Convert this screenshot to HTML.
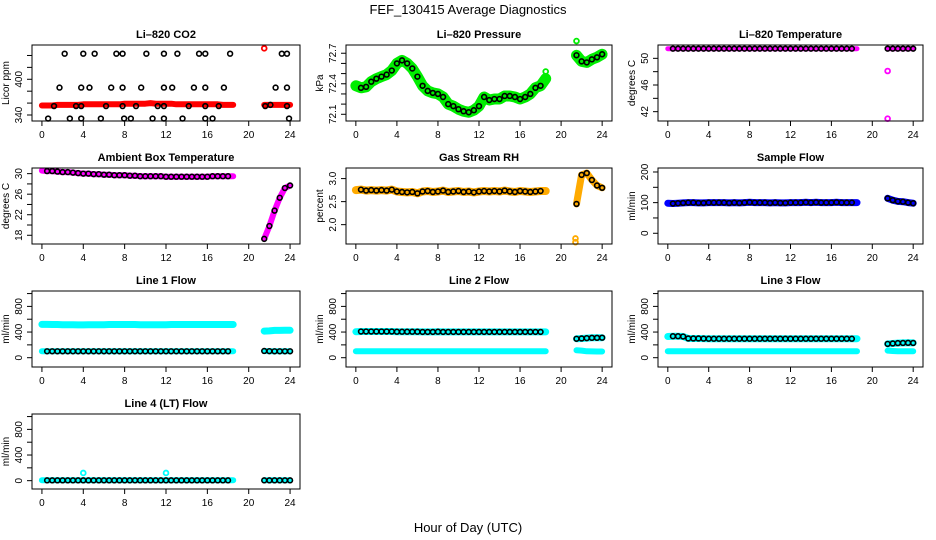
<!DOCTYPE html>
<html><head><meta charset="utf-8"><style>
html,body{margin:0;padding:0;background:#fff;}
svg{display:block;font-family:"Liberation Sans",Arial,sans-serif;}
</style></head><body>
<svg id="chart" width="936" height="540" viewBox="0 0 936 540" xmlns="http://www.w3.org/2000/svg">
<rect width="936" height="540" fill="#fff"/>
<text x="468" y="14" font-size="13" text-anchor="middle">FEF_130415  Average Diagnostics</text>
<text x="468" y="532" font-size="13" text-anchor="middle">Hour of Day (UTC)</text>
</svg>
<script>
// ---- shared hours ----
const H1 = [0,0.5,1,1.5,2,2.5,3,3.5,4,4.5,5,5.5,6,6.5,7,7.5,8,8.5,9,9.5,10,10.5,11,11.5,12,12.5,13,13.5,14,14.5,15,15.5,16,16.5,17,17.5,18,18.5];
const H2 = [21.5,22,22.5,23,23.5,24];
const xTicks = [0,4,8,12,16,20,24];

// ---- CO2 ----
const co2Red1 = [356,356,356,357,357,357,357,357,358,358,358,358,358,358,358,358,359,359,359,359,359,360,359,359,359,359,358,358,358,358,358,358,358,358,358,357,357,357];
const co2Red2 = [357,357,357,357,357,357];
const co2RedOutHours = [21.5];
const co2RedOutVals = [452];
const co2BlackHours = [0.6,1.17,1.7,2.2,2.7,3.3,3.8,3.8,3.8,4.0,4.6,5.1,5.7,6.2,6.7,7.2,7.8,7.8,7.8,7.95,8.6,9.1,9.6,10.1,10.7,11.2,11.8,11.8,11.8,11.8,12.6,13.1,13.6,14.2,14.7,15.2,15.8,15.8,15.8,15.8,16.5,17.1,17.6,18.2,21.6,22.1,22.6,23.2,23.7,23.7,23.7,23.9];
const co2BlackVals = [334,355,386,443,334,355,334,386,355,443,386,443,334,355,386,443,443,386,355,334,334,355,386,443,334,355,355,334,386,443,386,443,334,355,386,443,443,386,355,334,334,355,386,443,355,357,386,443,443,386,355,334];
// ---- Pressure ----
const pres1 = [72.38,72.36,72.37,72.42,72.45,72.47,72.49,72.53,72.6,72.63,72.6,72.55,72.47,72.38,72.33,72.31,72.3,72.27,72.2,72.18,72.15,72.13,72.12,72.14,72.18,72.27,72.24,72.25,72.25,72.28,72.28,72.27,72.25,72.27,72.3,72.36,72.38,72.45];
const pres2 = [72.68,72.62,72.61,72.64,72.66,72.69];
const presOutHours = [18.5,21.5];
const presOutVals = [72.52,72.82];
// ---- Li-820 temperature ----
const ltemp1 = [51.45,51.45,51.45,51.45,51.45,51.45,51.45,51.45,51.45,51.45,51.45,51.45,51.45,51.45,51.45,51.45,51.45,51.45,51.45,51.45,51.45,51.45,51.45,51.45,51.45,51.45,51.45,51.45,51.45,51.45,51.45,51.45,51.45,51.45,51.45,51.45,51.45,51.45];
const ltemp2 = [51.45,51.45,51.45,51.45,51.45,51.45];
const ltempOutHours = [21.5,21.5];
const ltempOutVals = [48.1,40.95];
// ---- Ambient box ----
const amb1 = [30.6,30.5,30.5,30.4,30.3,30.3,30.2,30.1,30.0,30.0,29.9,29.9,29.8,29.8,29.7,29.7,29.7,29.6,29.6,29.5,29.5,29.5,29.5,29.5,29.4,29.4,29.4,29.4,29.4,29.4,29.4,29.4,29.4,29.5,29.5,29.5,29.5,29.5];
const amb2 = [17.3,19.8,22.8,25.3,27.2,27.7];
// ---- RH ----
const rh1 = [2.75,2.76,2.74,2.75,2.74,2.75,2.74,2.76,2.72,2.71,2.70,2.71,2.68,2.72,2.73,2.71,2.72,2.74,2.71,2.72,2.73,2.71,2.72,2.70,2.72,2.73,2.72,2.73,2.72,2.74,2.72,2.71,2.73,2.72,2.71,2.72,2.73,2.73];
const rh2 = [2.45,3.08,3.12,2.97,2.85,2.80];
const rhOutHours = [21.4,21.4];
const rhOutVals = [1.62,1.70];
// ---- Sample flow ----
const sf1 = [98,97,98,99,100,100,99,99,100,100,100,100,99,100,99,100,101,100,100,100,99,100,99,99,100,100,100,101,100,101,100,100,100,101,100,100,100,100];
const sf2 = [114,108,104,103,100,98];
// ---- Line flows ----
const l1Hi1 = [520,520,518,518,515,515,515,512,512,515,515,515,515,518,518,518,518,518,518,515,515,515,515,515,515,518,518,518,518,518,518,518,518,518,518,518,518,518];
const l1Hi2 = [415,418,425,425,428,428];
const l1Lo1 = [100,100,100,100,100,100,100,100,100,100,100,100,100,100,100,100,100,100,100,100,100,100,100,100,100,100,100,100,100,100,100,100,100,100,100,100,100,100];
const l1Lo2 = [105,102,100,100,100,100];
const l2Hi1 = [405,408,408,408,408,408,408,408,405,405,405,405,405,402,402,402,405,402,402,402,402,402,402,402,402,402,402,402,402,402,402,402,402,402,402,402,402,402];
const l2Hi2 = [295,300,305,310,310,312];
const l2Lo1 = [100,100,100,100,100,100,100,100,100,100,100,100,100,100,100,100,100,100,100,100,100,100,100,100,100,100,100,100,100,100,100,100,100,100,100,100,100,100];
const l2Lo2 = [115,110,100,98,97,96];
const l3Hi1 = [330,335,335,330,300,300,300,298,296,296,296,296,296,296,296,296,296,296,296,296,296,296,296,296,296,296,296,296,296,296,296,296,296,296,296,296,296,296];
const l3Hi2 = [215,222,228,230,232,230];
const l3Lo1 = [100,100,100,100,100,100,100,100,100,100,100,100,100,100,100,100,100,100,100,100,100,100,100,100,100,100,100,100,100,100,100,100,100,100,100,100,100,100];
const l3Lo2 = [110,105,100,100,100,100];
const l4v1 = [5,5,5,5,5,5,5,5,5,5,5,5,5,5,5,5,5,5,5,5,5,5,5,5,5,5,5,5,5,5,5,5,5,5,5,5,5,5];
const l4v2 = [5,5,5,5,5,5];
const l4OutHours = [4,12];
const l4OutVals = [120,120];

// ---- layout (not data) ----
const colX = [[32,300],[346,612],[658,923]];
const rowY = [[45,121],[168,244],[291,367],[414,489]];
const NS = "http://www.w3.org/2000/svg";
const svg = document.getElementById('chart');
function mk(tag, attrs, parent){const e=document.createElementNS(NS,tag);for(const k in attrs)e.setAttribute(k,attrs[k]);(parent||svg).appendChild(e);return e;}

const panels = [
 {name:'co2', title:'Li\u2013820 CO2', ylab:'Licor ppm', col:0,row:0, ylim:[329.9,457.6], yt:[340,360,380,400,420,440], yl:['340','400'], ylv:[340,400]},
 {name:'pressure', title:'Li\u2013820 Pressure', ylab:'kPa', col:1,row:0, ylim:[72.034,72.781], yt:[72.1,72.2,72.3,72.4,72.5,72.6,72.7], yl:['72.1','72.4','72.7'], ylv:[72.1,72.4,72.7]},
 {name:'li820-temp', title:'Li\u2013820 Temperature', ylab:'degrees C', col:2,row:0, ylim:[40.6,52.0], yt:[42,44,46,48,50], yl:['42','46','50'], ylv:[42,46,50]},
 {name:'ambient-temp', title:'Ambient Box Temperature', ylab:'degrees C', col:0,row:1, ylim:[16.3,31.1], yt:[18,20,22,24,26,28,30], yl:['18','22','26','30'], ylv:[18,22,26,30]},
 {name:'rh', title:'Gas Stream RH', ylab:'percent', col:1,row:1, ylim:[1.58,3.23], yt:[2.0,2.5,3.0], yl:['2.0','2.5','3.0'], ylv:[2.0,2.5,3.0]},
 {name:'sample-flow', title:'Sample Flow', ylab:'ml/min', col:2,row:1, ylim:[-35,213], yt:[0,50,100,150,200], yl:['0','100','200'], ylv:[0,100,200]},
 {name:'line1-flow', title:'Line 1 Flow', ylab:'ml/min', col:0,row:2, ylim:[-145,1040], yt:[0,200,400,600,800,1000], yl:['0','400','800'], ylv:[0,400,800]},
 {name:'line2-flow', title:'Line 2 Flow', ylab:'ml/min', col:1,row:2, ylim:[-145,1040], yt:[0,200,400,600,800,1000], yl:['0','400','800'], ylv:[0,400,800]},
 {name:'line3-flow', title:'Line 3 Flow', ylab:'ml/min', col:2,row:2, ylim:[-145,1040], yt:[0,200,400,600,800,1000], yl:['0','400','800'], ylv:[0,400,800]},
 {name:'line4-flow', title:'Line 4 (LT) Flow', ylab:'ml/min', col:0,row:3, ylim:[-130,1040], yt:[0,200,400,600,800,1000], yl:['0','400','800'], ylv:[0,400,800]}
];

function setup(p){
  const [x0,x1]=colX[p.col],[y0,y1]=rowY[p.row];
  const g=mk('g',{});
  
  
  p.g=g;
  p.sx=h=>x0+(h+0.96)/25.92*(x1-x0);
  p.sy=v=>y1-(v-p.ylim[0])/(p.ylim[1]-p.ylim[0])*(y1-y0);
  const t=mk('text',{x:(x0+x1)/2,y:y0-7,'font-size':11,'font-weight':'bold','text-anchor':'middle'},g);
  t.textContent=p.title;
  
  
  xTicks.forEach(h=>{
    const x=p.sx(h);
    mk('line',{x1:x,x2:x,y1:y1,y2:y1+5,stroke:'#000'},g);
    const tl=mk('text',{x:x,y:y1+17,'font-size':10,'text-anchor':'middle'},g);
    tl.textContent=h;
    
    
  });
  p.yt.forEach(v=>{const y=p.sy(v);mk('line',{x1:x0-5,x2:x0,y1:y,y2:y,stroke:'#000'},g);});
  p.ylv.forEach((v,i)=>{
    const y=p.sy(v);
    const tl=mk('text',{x:0,y:0,'font-size':10,'text-anchor':'middle',transform:`translate(${x0-10},${y}) rotate(-90)`},g);
    tl.textContent=p.yl[i];
    
    
  });
  const yt=mk('text',{x:0,y:0,'font-size':10,'text-anchor':'middle',transform:`translate(${x0-23},${(y0+y1)/2}) rotate(-90)`},g);
  yt.textContent=p.ylab;
  
  
  p.marks=mk('g',{},g);
  const b=mk('rect',{x:x0,y:y0,width:x1-x0,height:y1-y0,fill:'none',stroke:'#000'},g);
  
  
}
function band(p,hours,vals,color,w,nm){
  const pts=hours.map((h,i)=>p.sx(h).toFixed(1)+','+p.sy(vals[i]).toFixed(1)).join(' ');
  const l=mk('polyline',{points:pts,fill:'none',stroke:color,'stroke-width':w,'stroke-linecap':'round','stroke-linejoin':'round'},p.marks);
  
  
}
function pts(p,hours,vals,color,r,sw,nm){
  hours.forEach((h,i)=>{
    const c=mk('circle',{cx:p.sx(h),cy:p.sy(vals[i]),r:r,fill:'none',stroke:color,'stroke-width':sw},p.marks);
    
    
  });
}
function blackOn(p,v1,v2){
  pts(p,H1.slice(1,37),v1.slice(1,37),'#000',2.4,1.6,'black-point');
  pts(p,H2,v2,'#000',2.4,1.6,'black-point');
}
panels.forEach(setup);
const [P1,P2,P3,P4,P5,P6,P7,P8,P9,P10]=panels;
band(P1,H1,co2Red1,'#f00',6,'co2-red-band');band(P1,H2,co2Red2,'#f00',6,'co2-red-band');
pts(P1,co2RedOutHours,co2RedOutVals,'#f00',2.4,1.8,'co2-red-outlier');
pts(P1,co2BlackHours,co2BlackVals,'#000',2.4,1.6,'co2-black-point');
band(P2,H1,pres1,'#0e0',11,'pressure-green-band');band(P2,H2,pres2,'#0e0',11,'pressure-green-band');
pts(P2,presOutHours,presOutVals,'#0e0',2.4,1.8,'pressure-outlier');
blackOn(P2,pres1,pres2);
band(P3,H1,ltemp1,'#f0f',5,'li820-temp-band');band(P3,H2,ltemp2,'#f0f',5,'li820-temp-band');
blackOn(P3,ltemp1,ltemp2);
pts(P3,ltempOutHours,ltempOutVals,'#f0f',2.4,1.8,'li820-temp-outlier');
band(P4,H1,amb1,'#f0f',6,'ambient-band');band(P4,H2,amb2,'#f0f',6,'ambient-band');
blackOn(P4,amb1,amb2);
band(P5,H1,rh1,'#fa0',8,'rh-band');band(P5,H2,rh2,'#fa0',7,'rh-band');
pts(P5,rhOutHours,rhOutVals,'#fa0',2.4,1.8,'rh-outlier');
blackOn(P5,rh1,rh2);
band(P6,H1,sf1,'#00f',7,'sample-flow-band');band(P6,H2,sf2,'#00f',7,'sample-flow-band');
blackOn(P6,sf1,sf2);
band(P7,H1,l1Hi1,'#0ff',7,'line1-high-band');band(P7,H2,l1Hi2,'#0ff',7,'line1-high-band');
band(P7,H1,l1Lo1,'#0ff',6,'line1-low-band');band(P7,H2,l1Lo2,'#0ff',6,'line1-low-band');
blackOn(P7,l1Lo1,l1Lo2);
band(P8,H1,l2Hi1,'#0ff',7,'line2-high-band');band(P8,H2,l2Hi2,'#0ff',7,'line2-high-band');
band(P8,H1,l2Lo1,'#0ff',6,'line2-low-band');band(P8,H2,l2Lo2,'#0ff',6,'line2-low-band');
blackOn(P8,l2Hi1,l2Hi2);
band(P9,H1,l3Hi1,'#0ff',7,'line3-high-band');band(P9,H2,l3Hi2,'#0ff',7,'line3-high-band');
band(P9,H1,l3Lo1,'#0ff',6,'line3-low-band');band(P9,H2,l3Lo2,'#0ff',6,'line3-low-band');
blackOn(P9,l3Hi1,l3Hi2);
band(P10,H1,l4v1,'#0ff',6,'line4-band');band(P10,H2,l4v2,'#0ff',6,'line4-band');
pts(P10,l4OutHours,l4OutVals,'#0ff',2.4,1.8,'line4-outlier');
blackOn(P10,l4v1,l4v2);
</script>
</body></html>
